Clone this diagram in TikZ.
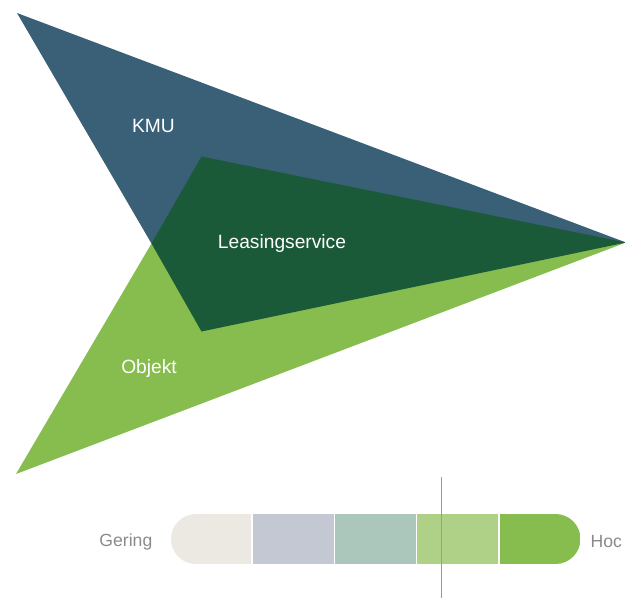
\documentclass[tikz,border=0pt]{standalone}
\usepackage{fontspec}
\setmainfont{Liberation Sans}
\definecolor{kmublue}{HTML}{3A6078}
\definecolor{leasegreen}{HTML}{1B5A38}
\definecolor{objgreen}{HTML}{86BD4E}
\definecolor{barA}{HTML}{ECE8E2}
\definecolor{barB}{HTML}{C4C8D2}
\definecolor{barC}{HTML}{ABC7BB}
\definecolor{barD}{HTML}{AFD187}
\definecolor{barE}{HTML}{86BD4E}
\definecolor{labelgray}{HTML}{8A8A8A}
\definecolor{markgray}{HTML}{9A9A9A}
\begin{document}
\begin{tikzpicture}[x=1pt,y=-1pt,
  arealabel/.style={text=white,font=\fontsize{19.2}{21}\selectfont,inner sep=0pt},
  scalelabel/.style={text=labelgray,font=\fontsize{17.6}{19}\selectfont,inner sep=0pt}]
\useasboundingbox (0,0) rectangle (625,598);
% key points
\coordinate (kmuTop) at (17,13);
\coordinate (tip) at (626,242.5);
\coordinate (mid) at (151.5,243.5);
\coordinate (objBot) at (16,474);
\coordinate (lsTop) at (201.5,156.5);
\coordinate (lsBot) at (201.5,331.5);
% shapes
\fill[kmublue] (kmuTop) -- (tip) -- (mid) -- cycle;
\fill[objgreen] (mid) -- (tip) -- (objBot) -- cycle;
\fill[leasegreen] (mid) -- (lsTop) -- (tip) -- (lsBot) -- cycle;
% labels
\node[arealabel] (kmu) at (153.5,125.5) {KMU};
\node[arealabel] (lease) at (282,244) {Leasingservice};
\node[arealabel] (obj) at (149,368.5) {Objekt};
% scale bar
\begin{scope}
  \clip[rounded corners=25pt] (171,514) rectangle (580.5,564);
  \fill[barA] (171,514) rectangle (251.4,564);
  \fill[barB] (252.7,514) rectangle (334.1,564);
  \fill[barC] (335.1,514) rectangle (416.1,564);
  \fill[barD] (417.2,514) rectangle (498.1,564);
  \fill[barE] (499.5,514) rectangle (580.5,564);
\end{scope}
\coordinate (markTop) at (441.5,477);
\coordinate (markBot) at (441.5,598);
\draw[markgray,line width=1pt] (markTop) -- (markBot);
\node[scalelabel,anchor=east] (gering) at (152.5,541.5) {Gering};
\node[scalelabel,anchor=west] (hoch) at (590.5,541.5) {Hoc};
\end{tikzpicture}
\end{document}
